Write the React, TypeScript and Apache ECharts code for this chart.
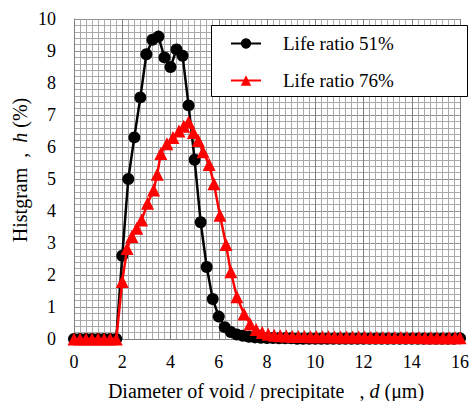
import React, { useEffect, useRef } from "react";
import * as echarts from "echarts";

const xTicks = [0, 2, 4, 6, 8, 10, 12, 14, 16];
const yTicks = [0, 1, 2, 3, 4, 5, 6, 7, 8, 9, 10];

const seriesNames = ["Life ratio 51%", "Life ratio 76%"];

// Life ratio 51% (black circles)
const blackD = [
  0, 0.25, 0.5, 0.75, 1, 1.25, 1.5, 1.75,
  2, 2.25, 2.5, 2.75, 3, 3.25, 3.5, 3.75, 4, 4.25, 4.5, 4.75,
  5, 5.25, 5.5, 5.75, 6, 6.25, 6.5, 6.75, 7, 7.25, 7.5, 7.75,
  8, 8.25, 8.5, 8.75, 9, 9.25, 9.5, 9.75, 10, 10.25, 10.5, 10.75,
  11, 11.25, 11.5, 11.75, 12, 12.25, 12.5, 12.75, 13, 13.25, 13.5, 13.75,
  14, 14.25, 14.5, 14.75, 15, 15.25, 15.5, 15.75, 16,
];
const blackH = [
  0, 0, 0, 0, 0, 0, 0, 0,
  2.6, 5.0, 6.3, 7.55, 8.9, 9.35, 9.45, 8.8, 8.5, 9.05, 8.85, 7.3,
  5.6, 3.65, 2.25, 1.25, 0.7, 0.37, 0.22, 0.14, 0.1, 0.07, 0.05, 0.04,
  0.03, 0.03, 0.02, 0.02, 0.02, 0.01, 0.01, 0.01, 0.01, 0.01, 0.01, 0.01,
  0.01, 0.01, 0.01, 0.01, 0.01, 0.01, 0.01, 0.01, 0.01, 0.01, 0.01, 0.01,
  0.01, 0.01, 0.01, 0.01, 0.01, 0.01, 0.01, 0.01, 0.02,
];

// Life ratio 76% (red triangles)
const redD = [
  0, 0.25, 0.5, 0.75, 1, 1.25, 1.5, 1.75,
  2.0, 2.2, 2.4, 2.6, 2.8, 3.05, 3.3, 3.45, 3.6, 3.85, 4.1, 4.35, 4.55, 4.75,
  4.95, 5.15, 5.35, 5.6, 5.8, 6.05, 6.3, 6.5, 6.75, 7.05, 7.3, 7.55, 7.8,
  8.05, 8.3, 8.55, 8.8, 9.05, 9.3, 9.55, 9.8, 10.05, 10.3, 10.55, 10.8,
  11.05, 11.3, 11.55, 11.8, 12.05, 12.3, 12.55, 12.8, 13.05, 13.3, 13.55, 13.8,
  14.05, 14.3, 14.55, 14.8, 15.05, 15.3, 15.55, 15.8, 16,
];
const redH = [
  0, 0, 0, 0, 0, 0, 0, 0,
  1.8, 2.83, 3.2, 3.46, 3.72, 4.24, 4.66, 5.15, 5.8, 6.1, 6.3, 6.5, 6.65, 6.78,
  6.45, 6.2, 5.85, 5.45, 4.85, 3.87, 2.95, 2.1, 1.32, 0.78, 0.47, 0.3, 0.2,
  0.15, 0.12, 0.1, 0.09, 0.08, 0.08, 0.08, 0.07, 0.07, 0.07, 0.07, 0.06,
  0.06, 0.06, 0.06, 0.06, 0.06, 0.05, 0.05, 0.05, 0.05, 0.05, 0.05, 0.05,
  0.05, 0.05, 0.04, 0.04, 0.04, 0.04, 0.04, 0.04, 0.04,
];

const FONT = "Liberation Serif";

export default function App() {
  const ref = useRef<HTMLDivElement>(null);
  useEffect(() => {
    if (!ref.current) return;
    const chart = echarts.init(ref.current, undefined, { renderer: "svg" });
    const blackData = blackD.map((d, i) => [d, blackH[i]]);
    const redData = redD.map((d, i) => [d, redH[i]]);
    chart.setOption({
      animation: false,
      backgroundColor: "#ffffff",
      textStyle: { fontFamily: FONT },
      grid: { left: 74, right: 13, top: 19, bottom: 62, containLabel: false },
      xAxis: {
        type: "value",
        min: xTicks[0],
        max: xTicks[xTicks.length - 1],
        interval: 2,
        axisLine: { show: true, lineStyle: { color: "#808080", width: 1 } },
        axisTick: { show: false },
        axisLabel: { fontFamily: FONT, fontSize: 18, color: "#000", margin: 14 },
        splitLine: { show: true, lineStyle: { color: "#808080", width: 1 } },
        minorTick: { show: false, splitNumber: 8 },
        minorSplitLine: { show: true, lineStyle: { color: "#aaaaaa", width: 1 } },
      },
      yAxis: {
        type: "value",
        min: yTicks[0],
        max: yTicks[yTicks.length - 1],
        interval: 1,
        axisLine: { show: true, lineStyle: { color: "#808080", width: 1 } },
        axisTick: { show: false },
        axisLabel: { fontFamily: FONT, fontSize: 18, color: "#000", margin: 18 },
        splitLine: { show: true, lineStyle: { color: "#909090", width: 1 } },
        minorTick: { show: false, splitNumber: 5 },
        minorSplitLine: { show: true, lineStyle: { color: "#aaaaaa", width: 1 } },
      },
      legend: {
        orient: "vertical",
        left: 211,
        top: 25,
        padding: [9, 10, 7, 19],
        itemGap: 18,
        itemWidth: 30,
        itemHeight: 13,
        data: seriesNames,
        textStyle: { fontFamily: FONT, fontSize: 19, color: "#000", padding: [0, 0, 0, 17] },
        z: 6,
      },
      graphic: [
        {
          type: "rect",
          z: 5,
          shape: { x: 211.5, y: 25.5, width: 256, height: 71 },
          style: { fill: "#ffffff", stroke: "#000000", lineWidth: 1 },
        },
        {
          type: "text",
          x: 20,
          y: 170,
          rotation: Math.PI / 2,
          style: {
            text: "{a|Histgram  ,  }{i|h}{a| (%)}",
            textAlign: "center",
            textVerticalAlign: "middle",
            rich: {
              a: { fontFamily: FONT, fontSize: 20, fill: "#000" },
              i: { fontFamily: FONT, fontSize: 20, fontStyle: "italic", fill: "#000" },
            },
          },
        },
        {
          type: "text",
          x: 266,
          y: 391,
          style: {
            text: "{a|Diameter of void / precipitate   , }{i|d}{a| (μm)}",
            textAlign: "center",
            textVerticalAlign: "middle",
            rich: {
              a: { fontFamily: FONT, fontSize: 20, fill: "#000" },
              i: { fontFamily: FONT, fontSize: 20, fontStyle: "italic", fill: "#000" },
            },
          },
        },
      ],
      series: [
        {
          name: seriesNames[0],
          type: "line",
          data: blackData,
          symbol: "circle",
          symbolSize: 12,
          itemStyle: { color: "#000000" },
          lineStyle: { color: "#000000", width: 2.5 },
          z: 2,
        },
        {
          name: seriesNames[1],
          type: "line",
          data: redData,
          symbol: "triangle",
          symbolSize: 13,
          itemStyle: { color: "#ff0000" },
          lineStyle: { color: "#ff0000", width: 2.5 },
          z: 3,
        },
      ],
    });
    return () => chart.dispose();
  }, []);
  return (
    <div
      ref={ref}
      style={{ position: "fixed", left: 0, top: 0, width: 473, height: 401 }}
    />
  );
}
